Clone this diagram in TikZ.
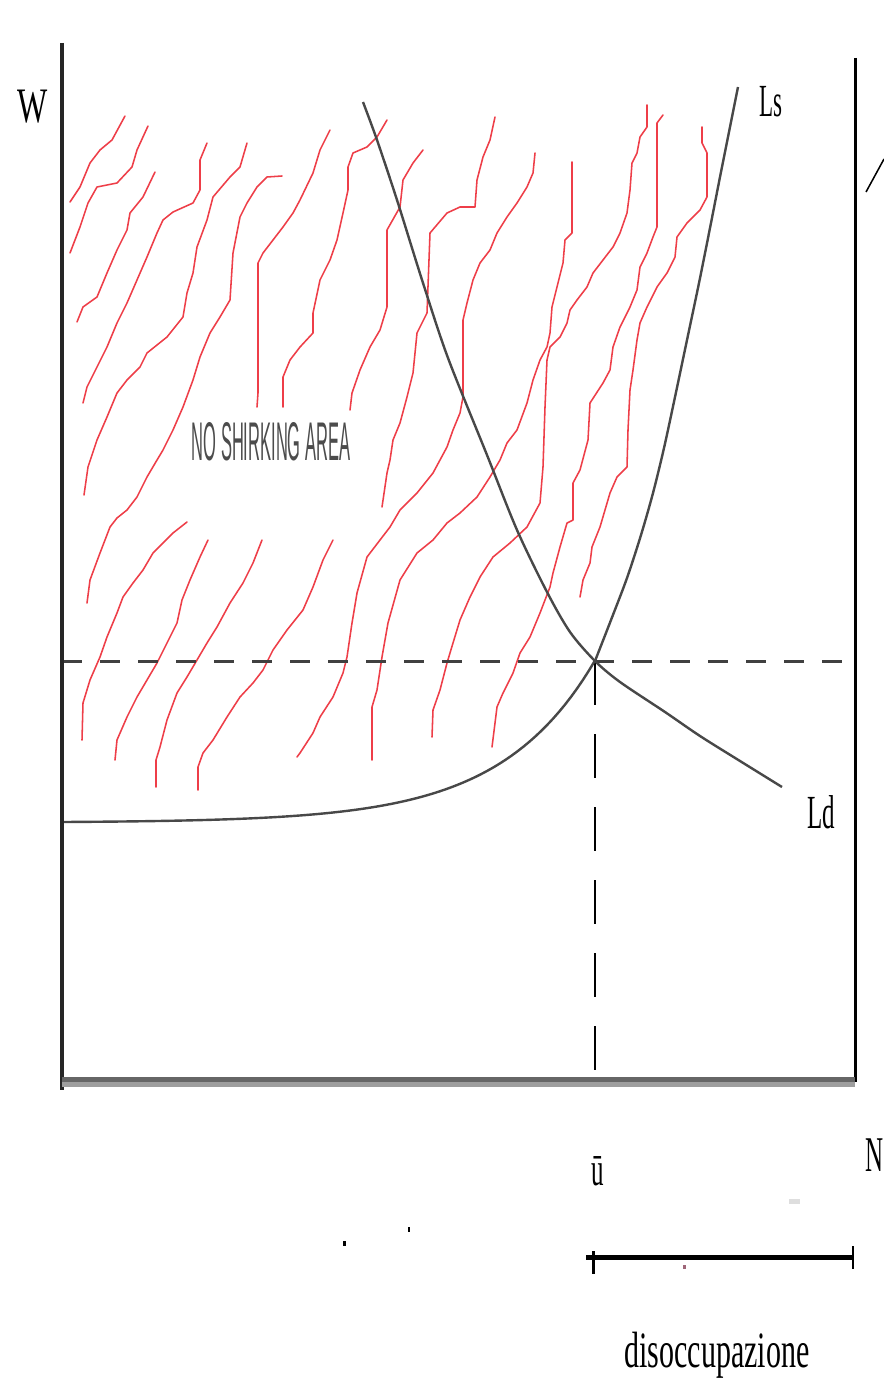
\documentclass[tikz,border=0pt]{standalone}
\usepackage{fontspec}
\setmainfont{Liberation Serif}
\newfontfamily\sansf{Liberation Sans}
\usepackage{graphicx}
\definecolor{hatch}{RGB}{238,62,72}
\definecolor{curvegray}{RGB}{72,72,72}
\begin{document}
\begin{tikzpicture}[x=1pt,y=-1pt,
  hatchline/.style={draw=hatch, line width=1.55pt, line join=round, line cap=round},
  curveline/.style={draw=curvegray, line width=2.4pt, line join=round},
  lbl/.style={inner sep=0pt, anchor=base, text=black},
  axisline/.style={draw=black!85, line width=3.5pt}]
\useasboundingbox (0,0) rectangle (883,1383);
\fill[white] (0,0) rectangle (883,1383);

% named coordinates of the frame
\coordinate (ltop) at (62,43);
\coordinate (lbot) at (62,1090);
\coordinate (rtop) at (855,58);
\coordinate (rbot) at (855,1082);
\coordinate (hl) at (62,661);
\coordinate (hr) at (855,661);
\coordinate (eq) at (595,661);
\coordinate (eqb) at (595,1082);

% red hatch lines
\draw[hatchline] (125,116)--(112,140)--(100,150)--(90,163)--(80,187)--(70,202);
\draw[hatchline] (148,126)--(137,150)--(132,167)--(117,183)--(97,187)--(88,203)--(80,227)--(70,253);
\draw[hatchline] (155,172)--(143,197)--(130,213)--(127,230)--(117,250)--(107,273)--(97,297)--(83,307)--(77,322);
\draw[hatchline] (207,143)--(200,160)--(200,190)--(193,203)--(173,212)--(163,220)--(157,233)--(147,257)--(137,280)--(127,303)--(117,323)--(107,347)--(97,367)--(87,387)--(83,403);
\draw[hatchline] (247,143)--(240,167)--(230,177)--(213,197)--(207,220)--(197,247)--(193,273)--(187,293)--(183,317)--(167,337)--(147,353)--(140,367)--(127,380)--(117,393)--(107,417)--(97,440)--(88,467)--(84,495);
\draw[hatchline] (282,176)--(267,177)--(257,187)--(247,203)--(240,217)--(233,253)--(230,300)--(220,317)--(210,333)--(200,357)--(193,380)--(183,407)--(173,430)--(163,450)--(157,460)--(147,477)--(137,497)--(127,510)--(117,518)--(110,527)--(100,553)--(90,580)--(87,603);
\draw[hatchline] (330,130)--(320,150)--(313,173)--(300,200)--(293,213)--(283,227)--(273,240)--(263,253)--(258,263)--(258,393)--(257,407);
\draw[hatchline] (387,120)--(377,137)--(367,147)--(353,153)--(348,167)--(348,190)--(343,213)--(337,240)--(330,260)--(320,280)--(313,313)--(313,333)--(300,347)--(290,360)--(283,377)--(283,407);
\draw[hatchline] (423,150)--(413,163)--(403,180)--(400,207)--(387,230)--(387,307)--(380,330)--(370,347)--(360,370)--(352,393)--(350,410);
\draw[hatchline] (495,117)--(490,140)--(483,157)--(477,180)--(475,207)--(460,207)--(447,213)--(430,233)--(427,313)--(417,333)--(413,373)--(407,397)--(400,423)--(393,440)--(390,460)--(387,473)--(382,507);
\draw[hatchline] (535,153)--(533,173)--(527,187)--(517,203)--(507,217)--(497,233)--(490,250)--(480,263)--(473,280)--(467,303)--(463,320)--(463,397)--(460,413)--(453,430)--(447,447)--(433,473)--(417,493)--(400,510)--(390,527)--(380,540)--(367,557)--(357,593)--(352,623)--(347,657)--(343,673)--(333,697)--(320,717)--(313,733)--(300,753)--(297,757);
\draw[hatchline] (572,162)--(572,233)--(565,240)--(563,263)--(557,287)--(552,307)--(550,333)--(547,347)--(540,360)--(533,380)--(527,403)--(517,430)--(507,443)--(500,460)--(490,477)--(477,497)--(460,513)--(447,523)--(433,540)--(417,553)--(400,580)--(388,623)--(382,657)--(377,690)--(372,707)--(372,760);
\draw[hatchline] (647,105)--(647,127)--(640,137)--(637,153)--(632,163)--(630,190)--(627,213)--(620,233)--(613,247)--(603,260)--(593,273)--(587,287)--(577,300)--(570,310)--(567,323)--(560,337)--(550,347)--(547,360)--(545,407)--(543,467)--(540,503)--(527,527)--(510,543)--(493,557)--(480,577)--(470,597)--(460,620)--(453,643)--(447,663)--(440,690)--(433,710)--(432,737);
\draw[hatchline] (663,115)--(657,123)--(657,227)--(653,237)--(647,253)--(640,267)--(637,290)--(630,307)--(620,327)--(613,347)--(610,370)--(603,383)--(590,403)--(588,440)--(580,470)--(573,483)--(573,520)--(567,523)--(560,547)--(553,573)--(550,587)--(540,613)--(530,637)--(520,653)--(513,673)--(503,693)--(497,707)--(492,747);
\draw[hatchline] (702,127)--(702,143)--(707,153)--(707,197)--(700,210)--(687,223)--(677,237)--(675,257)--(667,273)--(657,287)--(647,307)--(640,323)--(637,340)--(633,370)--(630,390)--(628,430)--(627,467)--(617,477)--(610,493)--(600,527)--(592,547)--(590,563)--(583,580)--(580,597);
\draw[hatchline] (187,522)--(173,533)--(163,543)--(153,553)--(143,570)--(133,583)--(123,597)--(117,613)--(107,637)--(100,657)--(90,680)--(83,703)--(82,740);
\draw[hatchline] (208,540)--(200,557)--(190,580)--(182,600)--(177,623)--(167,643)--(157,663)--(147,680)--(137,697)--(127,717)--(117,740)--(115,760);
\draw[hatchline] (262,540)--(253,563)--(243,583)--(230,603)--(217,627)--(207,643)--(197,660)--(187,677)--(177,693)--(167,720)--(160,747)--(156,760)--(156,787);
\draw[hatchline] (333,540)--(323,560)--(313,587)--(303,610)--(287,630)--(273,650)--(263,670)--(253,683)--(240,697)--(227,717)--(213,740)--(203,753)--(198,767)--(198,790);

% dashed guides
\draw[draw=black!75, line width=3pt, dash pattern=on 20pt off 18pt] (hl) -- (hr);
\draw[draw=black, line width=1.8pt, dash pattern=on 44pt off 29pt] (eq) -- (eqb);

% curves
\draw[curveline] plot[domain=62:595, samples=90] (\x, {822-0.569*(exp(0.0106*(\x-62))-1)})
  plot[smooth, tension=0.5] coordinates {(595,661) (611,620) (627,578) (641,535) (653,493) (664,448) (675,397) (687,340) (699,283) (710,228) (720,177) (729,132) (738,87)};
\draw[curveline] plot[smooth, tension=0.5] coordinates {(363,102) (377,140) (397,200) (423,283) (448,358) (487,455) (517,530) (547,592) (570,632) (595,661) (620,682) (665,712) (700,736) (740,761) (782,787)};

% frame
\draw[axisline] (ltop) -- (lbot);
\draw[draw=black, line width=3pt] (rtop) -- (rbot);
\draw[draw=black!60, line width=5pt] (62,1079.5) -- (855,1079.5);
\draw[draw=black!38, line width=5pt] (62,1084.5) -- (855,1084.5);

% stray slash at right edge
\coordinate (sl1) at (866,192);
\coordinate (sl2) at (884,159);
\draw[black, line width=1.5pt] (sl1) -- (sl2);

% bracket for disoccupazione
\coordinate (br1) at (586,1257);
\coordinate (br2) at (853,1257);
\coordinate (tk1a) at (593,1251);
\coordinate (tk1b) at (593,1274);
\coordinate (tk2a) at (853,1246);
\coordinate (tk2b) at (853,1269);
\draw[black, line width=5pt] (br1) -- (br2);
\draw[black, line width=3pt] (tk1a) -- (tk1b);
\draw[black, line width=2.5pt] (tk2a) -- (tk2b);

% small marks
\fill[black] (343,1241) rectangle (346,1246);
\fill[black] (408,1227) rectangle (410,1232);
\fill[black!50!purple!60] (683,1265) rectangle (686,1269);
\fill[black!13] (789,1199) rectangle (800,1204);

% labels
\node[lbl, font=\fontsize{32}{32}\selectfont] (wlabel) at (33,123) {\scalebox{1}[1.55]{W}};
\node[lbl, font=\fontsize{23}{23}\selectfont] (lslabel) at (771,117) {\scalebox{1}[2.0]{Ls}};
\node[lbl, font=\fontsize{25}{25}\selectfont] (ldlabel) at (821,828) {\scalebox{1}[1.9]{Ld}};
\node[lbl, font=\fontsize{25}{25}\selectfont] (nlabel) at (875,1171) {\scalebox{1}[2.0]{N}};
\node[lbl, font=\fontsize{25}{25}\selectfont] (ubar) at (598,1185) {\scalebox{1}[1.9]{ū}};
\node[lbl, font=\fontsize{30}{30}\selectfont] (disocc) at (717,1367) {\scalebox{1}[1.7]{disoccupazione}};
\node[lbl, text=black!70, font=\sansf\fontsize{16.5}{16.5}\selectfont] (nsa) at (271,460) {\scalebox{1}[3.3]{NO SHIRKING AREA}};
\end{tikzpicture}
\end{document}
